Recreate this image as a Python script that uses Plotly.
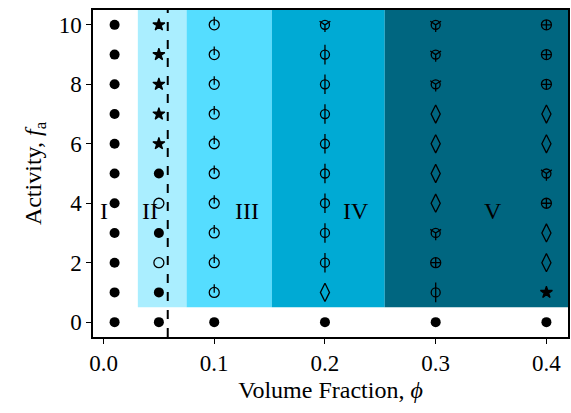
import plotly.graph_objects as go

# ---- data ----
phi_values = [0.01, 0.05, 0.1, 0.2, 0.3, 0.4]
activity = [0, 1, 2, 3, 4, 5, 6, 7, 8, 9, 10]
# phase code per (phi, activity), activity 0..10
# F filled circle, O open circle, S star, H circle w/ half line, P circle w/ line (Phi),
# D diamond, X circle-cross, T circle with tri-spokes
phase_001 = ["F", "F", "F", "F", "F", "F", "F", "F", "F", "F", "F"]
phase_005 = ["F", "F", "O", "F", "O", "F", "S", "S", "S", "S", "S"]
phase_010 = ["F", "H", "H", "H", "H", "H", "H", "H", "H", "H", "H"]
phase_020 = ["F", "D", "P", "P", "P", "P", "P", "P", "P", "P", "T"]
phase_030 = ["F", "P", "X", "T", "D", "D", "D", "D", "T", "T", "T"]
phase_040 = ["F", "S", "D", "D", "X", "T", "D", "D", "X", "X", "X"]
phases = [phase_001, phase_005, phase_010, phase_020, phase_030, phase_040]

region_names = ["I", "II", "III", "IV", "V"]
region_bounds = [(None, None), (0.031, 0.075), (0.075, 0.152), (0.152, 0.254), (0.254, 0.43)]
region_colors = [None, "#aaeeff", "#55ddff", "#00aad4", "#006680"]
region_label_x = [0.0, 0.042, 0.130, 0.228, 0.352]
region_label_y = 3.75
boundary_phi = 0.058

FONT = "Liberation Serif"

# marker layers per code: (symbol, size, y-offset in data units, line width)
layers = {
    "F": [("circle", 10, 0.0, 0)],
    "O": [("circle-open", 10, 0.0, 1.3)],
    "S": [("star", 9, 0.0, 1.2)],
    "H": [("circle-open", 10, 0.0, 1.3), ("line-ns-open", 6, 0.13, 1.3)],
    "P": [("circle-open", 9, 0.0, 1.3), ("line-ns-open", 14, 0.0, 1.3)],
    "D": [("diamond-tall-open", 13, 0.0, 1.3)],
    "X": [("circle-cross-open", 10, 0.0, 1.3)],
    "T": [("circle-open", 9, 0.0, 1.3), ("y-down-open", 9, 0.0, 1.3)],
}

fig = go.Figure()

for code, lay in layers.items():
    xs, ys = [], []
    for px, col in zip(phi_values, phases):
        for a, c in zip(activity, col):
            if c == code:
                xs.append(px)
                ys.append(a)
    if not xs:
        continue
    for sym, size, off, lw in lay:
        fig.add_trace(go.Scatter(
            x=xs, y=[y + off for y in ys], mode="markers", showlegend=False,
            hoverinfo="skip",
            marker=dict(symbol=sym, size=size, color="black",
                        line=dict(color="black", width=lw)),
        ))

# shaded regions
for (x0, x1), colr in zip(region_bounds, region_colors):
    if colr is None:
        continue
    fig.add_shape(type="rect", xref="x", yref="y", x0=x0, x1=x1, y0=0.5, y1=11,
                  fillcolor=colr, line_width=0, layer="below")

# boundary
fig.add_shape(type="line", xref="x", yref="paper", x0=boundary_phi, x1=boundary_phi,
              y0=0, y1=1, line=dict(color="black", width=2, dash="dash"))

for name, lx in zip(region_names, region_label_x):
    fig.add_annotation(x=lx, y=region_label_y, text=name, showarrow=False,
                       font=dict(family=FONT, size=24, color="black"))

axis_common = dict(showgrid=False, zeroline=False, showline=True, linecolor="black",
                   linewidth=1.5, mirror=True, ticks="outside", ticklen=5,
                   tickwidth=1.3, tickcolor="black",
                   tickfont=dict(family=FONT, size=23, color="black"))

fig.update_xaxes(range=[-0.0095, 0.4195], tickvals=[0.0, 0.1, 0.2, 0.3, 0.4],
                 ticktext=["0.0", "0.1", "0.2", "0.3", "0.4"],
                 title=dict(text="Volume Fraction, <i>ϕ</i>", standoff=6,
                            font=dict(family=FONT, size=24, color="black")),
                 **axis_common)
fig.update_yaxes(range=[-0.5, 10.5], tickvals=[0, 2, 4, 6, 8, 10],
                 title=dict(text="Activity, <i>f</i><sub>a</sub>", standoff=10,
                            font=dict(family=FONT, size=24, color="black")),
                 **axis_common)

fig.update_layout(width=571, height=413, margin=dict(l=93, r=1, t=10, b=76),
                  plot_bgcolor="white", paper_bgcolor="white")

fig.write_html("out.html")
